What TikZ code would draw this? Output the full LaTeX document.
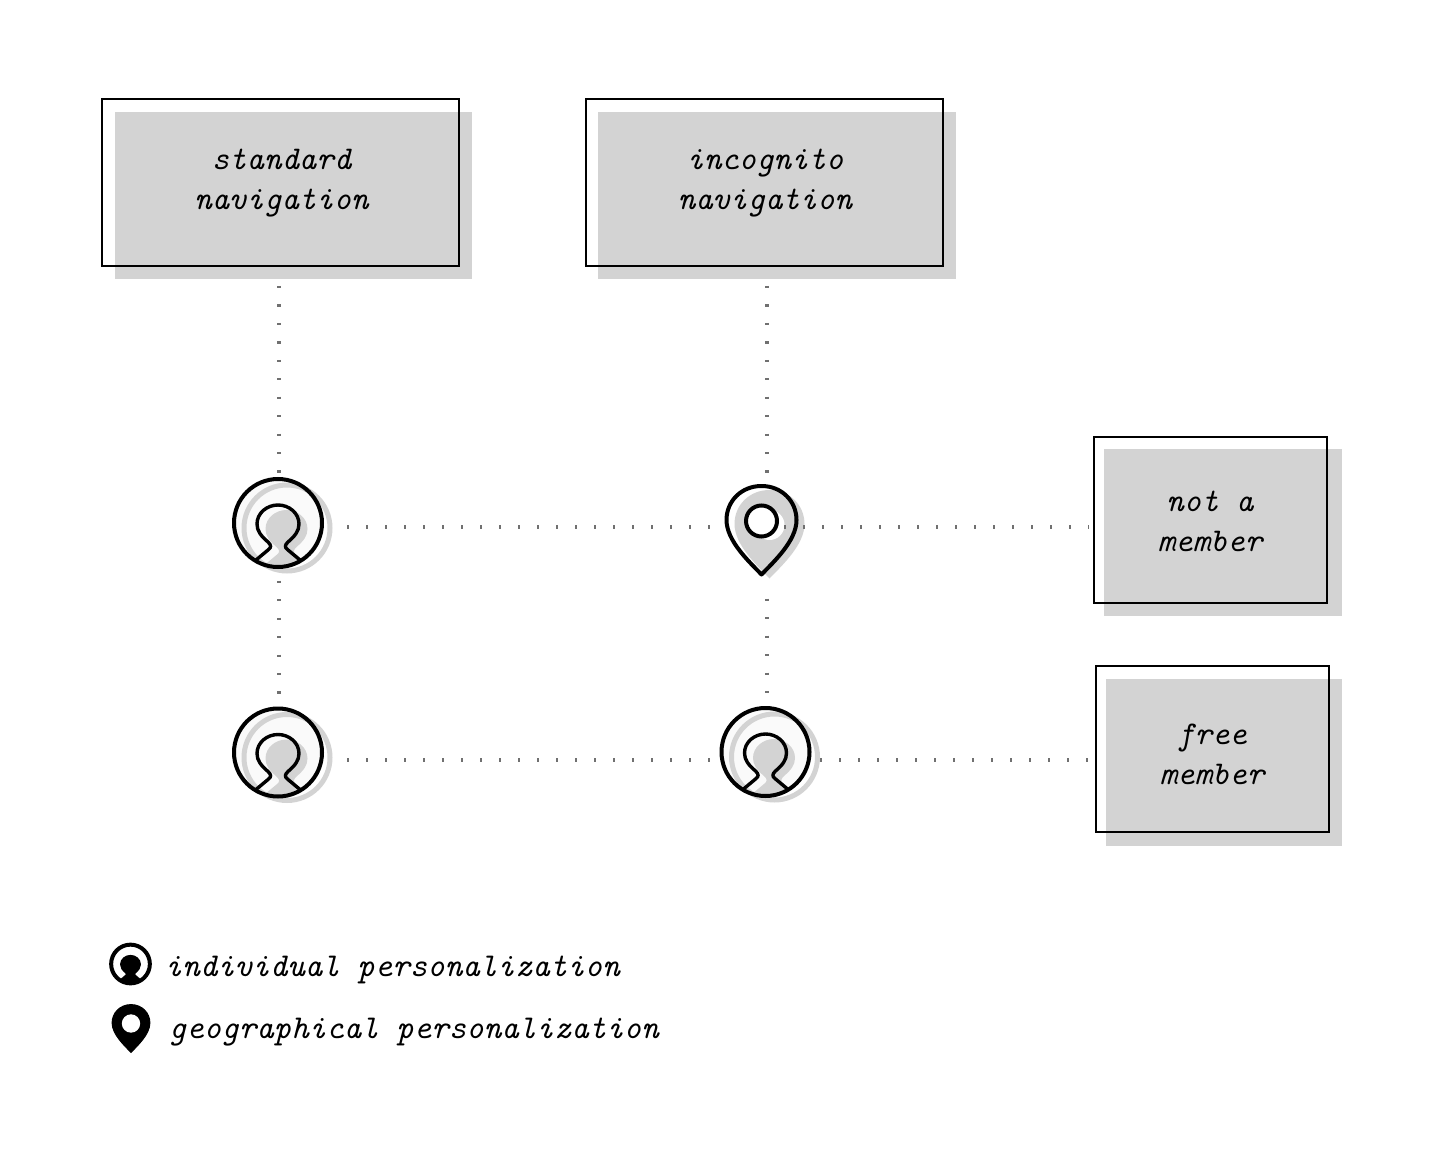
\documentclass[tikz,border=0pt]{standalone}
\definecolor{boxgray}{HTML}{D3D3D3}
\definecolor{dotgray}{HTML}{707070}
\newcommand{\personpath}{(-22,37) -- (-10,27) .. controls (-6,24) and (-7,22) .. (-10,19) .. controls (-17,13) and (-21,8) .. (-21,1) .. controls (-21,-10) and (-11,-18) .. (0,-18) .. controls (11,-18) and (21,-10) .. (21,1) .. controls (21,8) and (17,13) .. (10,19) .. controls (7,22) and (6,24) .. (10,27) -- (22,37)}
\newcommand{\pinpath}{(0,53.5) .. controls (-12,41) and (-35,20) .. (-35,-1) .. controls (-35,-20) and (-20,-35) .. (0,-35) .. controls (20,-35) and (35,-20) .. (35,-1) .. controls (35,20) and (12,41) .. (0,53.5) -- cycle}
\begin{document}
\begin{tikzpicture}[x=0.5pt, y=-0.5pt]
		\tikzset{backbox/.style={rectangle, fill=boxgray, inner sep=0, outer sep=0},
			framebox/.style={rectangle, draw=black, line width=1pt, inner sep=0},
			boxtext/.style={align=center, inner sep=0, font=\fontsize{16.6}{20}\selectfont\ttfamily\itshape},
			legendtext/.style={anchor=base west, inner sep=0, font=\fontsize{16.67}{20}\selectfont\ttfamily\itshape},
			spot/.style={circle, minimum size=10pt, inner sep=0, outer sep=0},
			dotsv/.style={draw=dotgray, line width=2pt, dash pattern=on 1.1pt off 8.125pt},
			dotsh/.style={draw=dotgray, line width=2pt, dash pattern=on 1.1pt off 8.4pt},
			pics/useravatar/.style={code={
				\fill[black!2] (0,0) circle (44);
				\draw[boxgray, line width=2.5pt] (9,5) circle (43);
				\begin{scope}
					\clip (0,0) circle (44);
					\fill[boxgray, shift={(8.5,5)}] \personpath -- (22,60) -- (-22,60) -- cycle;
				\end{scope}
				\draw[line width=1.7pt, line join=round] \personpath;
				\draw[line width=2pt] (0,0) circle (44);
			}},
			pics/pinmark/.style={code={
				\fill[boxgray, shift={(8,4)}] \pinpath;
				\fill[white] (8,4) circle (15);
				\draw[line width=2pt, line join=round] \pinpath;
				\draw[line width=2pt, fill=white] (0,0) circle (15.5);
			}},
			pics/useravatarsolid/.style={code={
				\begin{scope}
					\clip (0,0) circle (44);
					\filldraw[line width=1.2pt] \personpath -- (22,60) -- (-22,60) -- cycle;
				\end{scope}
				\draw[line width=2pt] (0,0) circle (44);
			}},
			pics/pinmarksolid/.style={code={
				\fill[draw=black, line width=.5pt] \pinpath;
				\fill[white] (0,0) circle (17);
			}}}
		\useasboundingbox (0,0) rectangle (1433,1170);

		\node[backbox, minimum width=178.65pt, minimum height=83.5pt] at (293.7,195.5) (stdback) {};
		\node[backbox, minimum width=179pt, minimum height=83.5pt] at (777,195.5) (incback) {};
		\node[backbox, minimum width=119pt, minimum height=83.6pt] at (1223,532.7) (notback) {};
		\node[backbox, minimum width=118pt, minimum height=83.5pt] at (1224,762.5) (freeback) {};

		\node[framebox, minimum width=178.6pt, minimum height=83.2pt] at (280.8,182.5) (stdframe) {};
		\node[framebox, minimum width=178.3pt, minimum height=83.2pt] at (764.5,182.5) (incframe) {};
		\node[framebox, minimum width=116.5pt, minimum height=83.2pt] at (1210.2,519.8) (notframe) {};
		\node[framebox, minimum width=116.5pt, minimum height=83pt] at (1212.5,749) (freeframe) {};

		\node[boxtext] at (281.5,183.5) (stdtext) {standard\\navigation};
		\node[boxtext] at (765,183.5) (inctext) {incognito\\navigation};
		\node[boxtext] at (1210,521) (nottext) {not a\\member};
		\node[boxtext] at (1212,754) (freetext) {free\\member};

		\node[spot] at (279,526.7) (stdguest) {};
		\node[spot] at (767,526.7) (incguest) {};
		\node[spot] at (279,759.7) (stdfree) {};
		\node[spot] at (767,759.7) (incfree) {};

		\pic at (278,523) {useravatar};
		\pic at (761.5,521) {pinmark};
		\pic at (278,752.5) {useravatar};
		\pic at (765.5,752) {useravatar};

		\draw[dotsv, shorten <=9.65pt, shorten >=22pt] (stdframe.south -| stdguest) -- (stdguest);
		\draw[dotsv, shorten <=9.65pt, shorten >=22pt] (incframe.south -| incguest) -- (incguest);
		\draw[dotsv, shorten <=22pt, shorten >=27.5pt] (stdguest) -- (stdfree);
		\draw[dotsv, shorten <=31pt, shorten >=27.5pt] (incguest) -- (incfree);

		\draw[dotsh, shorten <=29pt, shorten >=23.5pt] (stdguest) -- (incguest);
		\draw[dotsh, shorten <=3.5pt, shorten >=1.9pt] (incguest) -- (notframe.west |- incguest);
		\draw[dotsh, shorten <=29pt, shorten >=23.5pt] (stdfree) -- (incfree);
		\draw[dotsh, shorten <=21.5pt, shorten >=3.5pt] (incfree) -- (freeframe.west |- incfree);

		% legend
		\pic[scale=.44] at (130.5,964) {useravatarsolid};
		\pic[scale=.54] at (131,1023.5) {pinmarksolid};
		\node[legendtext] at (164.5,976) (indtext) {individual personalization};
		\node[legendtext] at (168.5,1038) (geotext) {geographical personalization};
\end{tikzpicture}
\end{document}
